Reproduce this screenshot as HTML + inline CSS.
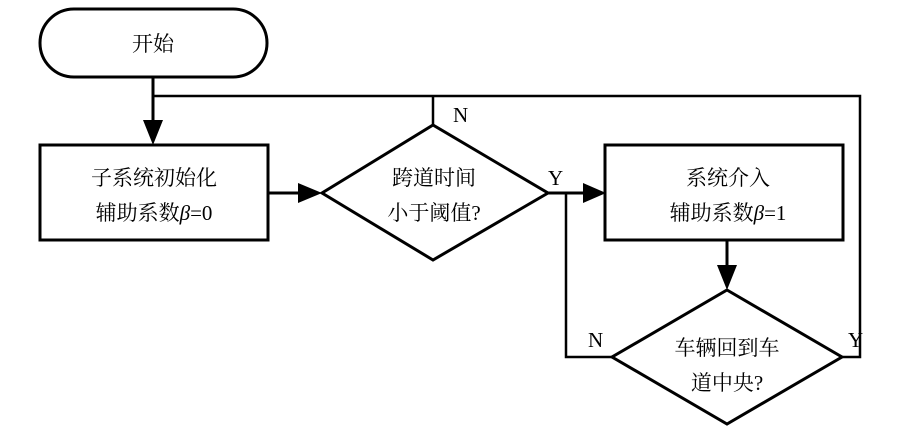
<!DOCTYPE html>
<html><head><meta charset="utf-8"><style>
html,body{margin:0;padding:0;background:#fff;}
svg text{font-family:"Liberation Serif","Noto Serif CJK SC","Noto Sans CJK SC",serif;font-size:21px;fill:#000;}
</style></head><body>
<svg width="909" height="433" viewBox="0 0 909 433" xmlns="http://www.w3.org/2000/svg">
<g fill="none" stroke="#000" stroke-width="3">
<rect x="40" y="9" width="227" height="68" rx="34"/>
<rect x="40" y="145" width="228" height="95"/>
<rect x="605" y="145" width="238" height="95"/>
<polygon points="433,125 548,193 433,260 322,193"/>
<polygon points="727,290 842,357 727,424 612,357"/>
<polyline points="153,77 153,120"/>
<polyline points="153,96 860,96 860,357 842,357" stroke-width="2.5"/>
<line x1="433" y1="96" x2="433" y2="125" stroke-width="2.5"/>
<line x1="268" y1="193" x2="300" y2="193"/>
<line x1="548" y1="193" x2="585" y2="193"/>
<polyline points="566,193 566,357 612,357" stroke-width="2.5"/>
<line x1="727" y1="240" x2="727" y2="266"/>
</g>
<g fill="#000">
<polygon points="143,120 163,120 153,145"/>
<polygon points="298,183 298,203 322,193"/>
<polygon points="583,183 583,203 606,193"/>
<polygon points="717,265 737,265 727,290"/>
</g>
<text x="153" y="51" text-anchor="middle">开始</text>
<text x="154" y="185" text-anchor="middle">子系统初始化</text>
<text x="154" y="220" text-anchor="middle">辅助系数<tspan font-style="italic">β</tspan>=0</text>
<text x="434" y="185" text-anchor="middle">跨道时间</text>
<text x="434" y="220" text-anchor="middle">小于阈值?</text>
<text x="728" y="185" text-anchor="middle">系统介入</text>
<text x="728" y="220" text-anchor="middle">辅助系数<tspan font-style="italic">β</tspan>=1</text>
<text x="727" y="355" text-anchor="middle">车辆回到车</text>
<text x="727" y="390" text-anchor="middle">道中央?</text>
<text x="453" y="122">N</text>
<text x="548" y="185">Y</text>
<text x="588" y="347">N</text>
<text x="848" y="347">Y</text>
</svg>
</body></html>
